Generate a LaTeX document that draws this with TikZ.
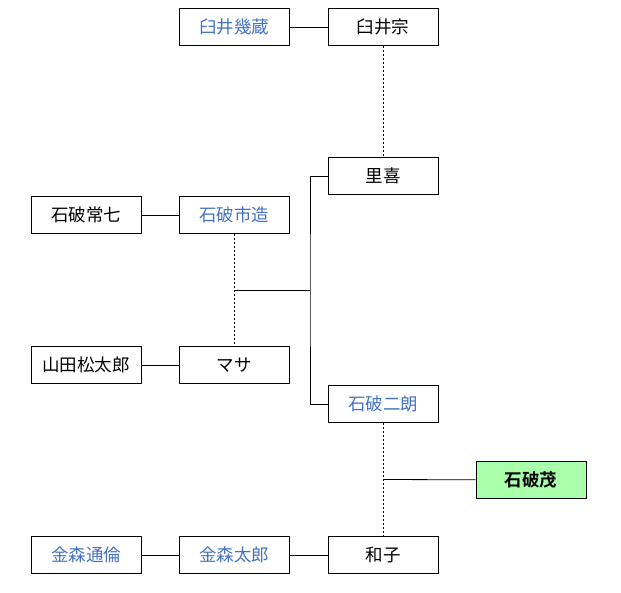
\documentclass[tikz,border=0pt]{standalone}
\usepackage{fontspec}
\setmainfont{Noto Sans CJK JP}[BoldFont={Noto Sans CJK JP Bold}]
\usetikzlibrary{calc}

\definecolor{famblue}{RGB}{68,114,196}
\definecolor{selfgreen}{RGB}{170,255,170}

\tikzset{
	person/.style = {draw, line width = 0.8pt, minimum width = 110pt, minimum height = 37pt, inner sep = 0pt, font = \fontsize{17.5}{20}\selectfont},
	blood/.style = {person, text = famblue},
	self/.style = {person, fill = selfgreen, font = \fontsize{17.5}{20}\selectfont\bfseries},
	tie/.style = {line width = 0.8pt},
	kin/.style = {line width = 0.8pt, dash pattern = on 2pt off 2pt}
}

\begin{document}
\begin{tikzpicture}[x = 1pt, y = -1pt]
	\useasboundingbox (0,0) rectangle (621,593);

	% persons
	\node[blood] (ikuzo) at (234,27) {臼井幾蔵};
	\node[person] (so) at (383,27) {臼井宗};
	\node[person] (satoki) at (383,176) {里喜};
	\node[person] (tsuneshichi) at (86,215) {石破常七};
	\node[blood] (ichizo) at (234,215) {石破市造};
	\node[person] (matsutaro) at (86,365) {山田松太郎};
	\node[person] (masa) at (234,365) {マサ};
	\node[blood] (jiro) at (383,404) {石破二朗};
	\node[self] (shigeru) at (531,480) {石破茂};
	\node[blood] (michitomo) at (86,555) {金森通倫};
	\node[blood] (taro) at (234,555) {金森太郎};
	\node[person] (kazuko) at (383,555) {和子};

	% marriages and children
	\draw[tie] (ikuzo) -- (so);
	\draw[kin] (so) -- (satoki);
	\draw[tie] (tsuneshichi) -- (ichizo);
	\draw[kin] (ichizo) -- (masa);
	\draw[tie] (matsutaro) -- (masa);
	\coordinate (ichizomid) at ($(ichizo.south)!0.5!(masa.north)$);
	\coordinate (bracket) at (310,290);
	\draw[tie] (ichizomid) -- (bracket);
	\draw[tie] (satoki.west) -| (bracket) |- (jiro.west);
	\draw[kin] (jiro) -- (kazuko);
	\coordinate (jiromid) at ($(jiro.south)!0.5!(kazuko.north)$);
	\draw[tie] (jiromid) -- (shigeru);
	\draw[tie] (michitomo) -- (taro) -- (kazuko);
\end{tikzpicture}
\end{document}
